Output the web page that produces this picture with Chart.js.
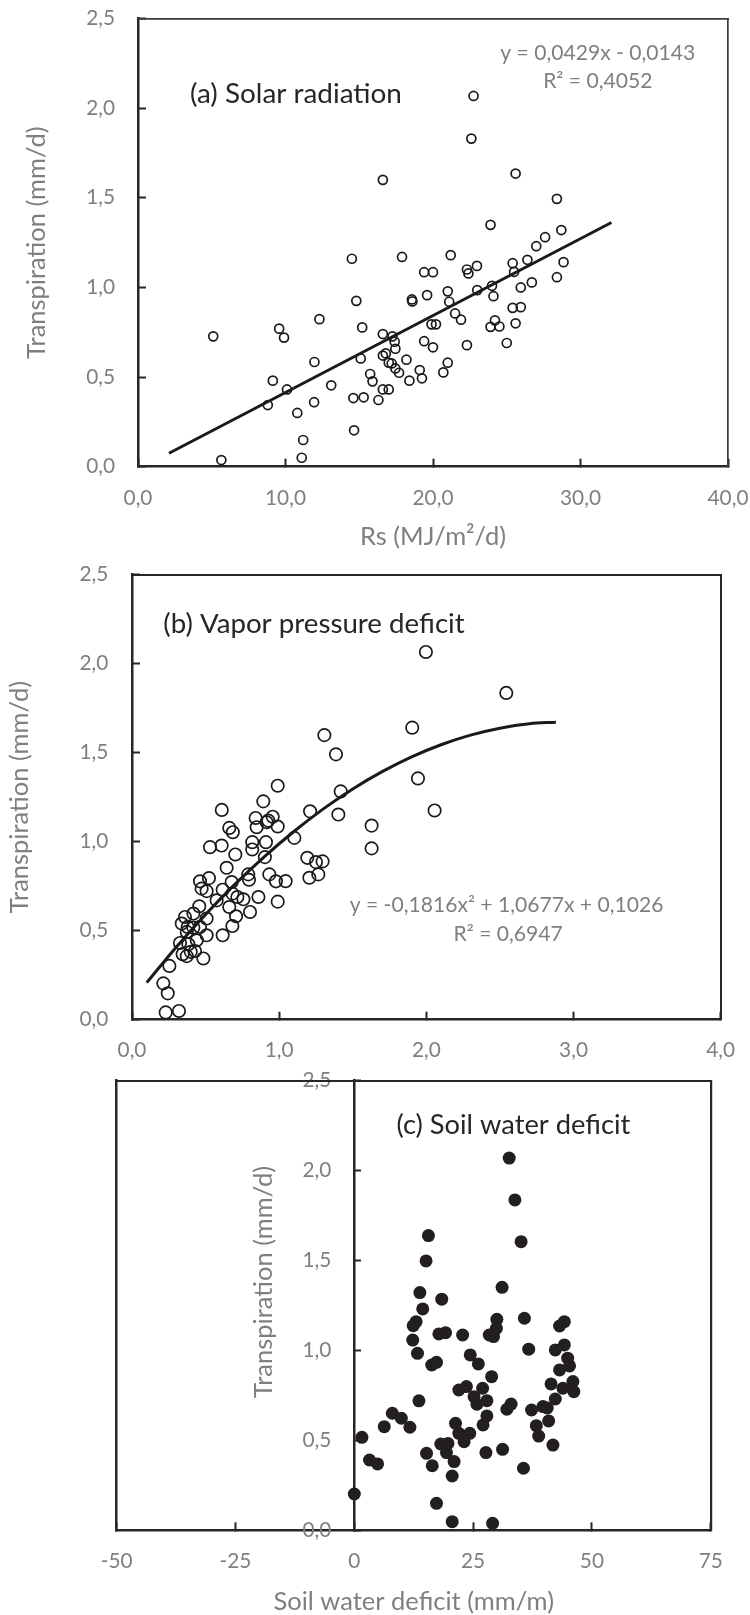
<!DOCTYPE html>
<html>
<head>
<meta charset="utf-8">
<title>Transpiration vs. Rs, VPD and soil water deficit</title>
<script src="https://cdn.jsdelivr.net/npm/chart.js@4.4.1/dist/chart.umd.min.js"></script>
<style>
    html, body { margin: 0; padding: 0; background: #fff; }
    #page { position: relative; width: 750px; height: 1615px; }
    #page canvas { position: absolute; left: 0; }
</style>
</head>
<body>
<div id="page">
    <canvas id="chartA" width="750" height="550" style="top:0"></canvas>
    <canvas id="chartB" width="750" height="510" style="top:550px"></canvas>
    <canvas id="chartC" width="750" height="555" style="top:1060px"></canvas>
</div>
<script>
// Tick values
const transpTicks = [0, 0.5, 1, 1.5, 2, 2.5];
const rsTicks = [0, 10, 20, 30, 40];
const vpdTicks = [0, 1, 2, 3, 4];
const swdTicks = [-50, -25, 0, 25, 50, 75];

// (a) Solar radiation (MJ/m2/d) vs transpiration (mm/d)
const rsX = [22.75, 22.6, 16.6, 25.6, 28.4, 23.9, 28.7, 27.6, 27.0, 14.5, 17.9, 21.2, 26.4, 28.85, 25.4, 25.5, 19.4, 20.0, 22.3, 22.4,
    22.98, 28.4, 26.7, 25.95, 24.0, 23.0, 24.1, 21.0, 21.1, 19.6, 18.57, 18.6, 14.8, 21.5, 21.9, 25.4, 25.95, 24.2, 23.9, 24.5,
    25.6, 25.0, 22.3, 19.9, 20.2, 19.4, 20.0, 15.2, 12.3, 9.57, 9.9, 16.6, 17.25, 17.4, 17.45, 16.8, 16.6, 11.96, 15.1, 18.2,
    17.2, 17.0, 17.45, 17.7, 18.4, 19.1, 19.25, 21.0, 20.7, 15.74, 15.9, 9.14, 10.1, 13.1, 8.8, 11.94, 10.8, 14.6, 15.3, 16.3,
    16.6, 17.0, 14.65, 11.2, 5.1, 5.65, 11.1];
const rsT = [2.068, 1.83, 1.60, 1.635, 1.494, 1.349, 1.32, 1.28, 1.23, 1.16, 1.17, 1.18, 1.154, 1.141, 1.135, 1.087, 1.085, 1.085, 1.10, 1.078,
    1.12, 1.057, 1.028, 1.00, 1.009, 0.985, 0.951, 0.978, 0.92, 0.957, 0.933, 0.922, 0.925, 0.855, 0.82, 0.886, 0.89, 0.816, 0.78, 0.782,
    0.80, 0.69, 0.678, 0.794, 0.794, 0.70, 0.666, 0.777, 0.823, 0.77, 0.72, 0.74, 0.727, 0.697, 0.658, 0.632, 0.62, 0.584, 0.604, 0.597,
    0.576, 0.58, 0.548, 0.524, 0.48, 0.539, 0.493, 0.58, 0.526, 0.517, 0.476, 0.48, 0.431, 0.454, 0.344, 0.36, 0.30, 0.383, 0.387, 0.372,
    0.431, 0.431, 0.203, 0.149, 0.727, 0.037, 0.05];
// linear trend line, end points
const rsFitX = [2.1, 32.1];
const rsFitT = [0.075, 1.362];

// (b) Vapor pressure deficit vs transpiration
const vpdX = [1.307, 1.386, 0.99, 1.418, 0.892, 0.61, 1.21, 1.997, 2.543, 1.904, 1.943, 2.056, 1.628, 1.628, 1.402, 0.661, 0.685, 0.84, 0.847, 0.915,
    0.956, 0.99, 0.926, 1.103, 0.53, 0.609, 0.702, 0.817, 0.817, 0.91, 0.903, 1.191, 1.25, 1.295, 1.266, 1.205, 0.643, 0.933, 0.978, 1.044,
    0.99, 0.79, 0.795, 0.523, 0.462, 0.473, 0.507, 0.616, 0.677, 0.682, 0.716, 0.757, 0.859, 0.802, 0.575, 0.661, 0.707, 0.682, 0.616, 0.457,
    0.417, 0.36, 0.338, 0.378, 0.417, 0.462, 0.507, 0.507, 0.372, 0.326, 0.383, 0.44, 0.344, 0.372, 0.399, 0.428, 0.485, 0.254, 0.213, 0.243,
    0.229, 0.319];
const vpdT = [1.598, 1.49, 1.314, 1.282, 1.226, 1.178, 1.17, 2.065, 1.835, 1.64, 1.355, 1.175, 1.09, 0.962, 1.152, 1.077, 1.053, 1.133, 1.081, 1.109,
    1.14, 1.085, 1.118, 1.021, 0.969, 0.978, 0.928, 0.997, 0.956, 0.997, 0.913, 0.909, 0.885, 0.889, 0.816, 0.797, 0.853, 0.816, 0.777, 0.778,
    0.663, 0.816, 0.786, 0.795, 0.777, 0.736, 0.722, 0.73, 0.773, 0.708, 0.689, 0.676, 0.689, 0.605, 0.67, 0.633, 0.581, 0.526, 0.474, 0.637,
    0.596, 0.577, 0.54, 0.521, 0.517, 0.521, 0.568, 0.474, 0.493, 0.431, 0.424, 0.446, 0.368, 0.357, 0.381, 0.386, 0.344, 0.302, 0.204, 0.148,
    0.041, 0.049];
// polynomial trend line
const vpdFitX = [0.1, 0.3, 0.5, 0.7, 0.9, 1.1, 1.3, 1.5, 1.7, 1.9, 2.1, 2.3, 2.5, 2.7, 2.88];
const vpdFitT = [0.208, 0.407, 0.591, 0.761, 0.916, 1.057, 1.184, 1.296, 1.393, 1.476, 1.544, 1.598, 1.637, 1.662, 1.671];

// (c) Soil water deficit (mm/m) vs transpiration
const swdX = [32.6, 33.8, 35.1, 15.6, 15.1, 31.1, 13.8, 18.4, 14.4, 35.8, 30.0, 13.0, 12.4, 44.2, 43.2, 17.8, 19.2, 22.8, 29.9, 28.4,
    29.3, 12.3, 44.2, 42.3, 36.7, 13.3, 24.4, 26.1, 44.9, 45.3, 43.2, 16.3, 17.3, 28.9, 27.0, 22.0, 23.6, 41.4, 43.9, 46.0,
    46.2, 25.2, 25.8, 27.9, 42.3, 13.6, 27.9, 27.1, 32.1, 33.0, 37.3, 39.7, 40.6, 40.9, 38.3, 38.8, 41.8, 8.0, 9.9, 11.7,
    6.3, 1.6, 3.2, 4.9, 0.0, 21.3, 22.0, 23.1, 24.3, 18.2, 19.7, 19.4, 15.2, 16.4, 21.0, 20.6, 27.7, 31.2, 35.6, 17.3,
    20.6, 29.1];
const swdT = [2.07, 1.837, 1.605, 1.639, 1.498, 1.351, 1.322, 1.285, 1.231, 1.179, 1.173, 1.16, 1.138, 1.16, 1.136, 1.092, 1.099, 1.086, 1.123, 1.086,
    1.077, 1.058, 1.031, 1.003, 1.007, 0.984, 0.975, 0.925, 0.957, 0.914, 0.892, 0.919, 0.934, 0.854, 0.79, 0.78, 0.799, 0.814, 0.79, 0.827,
    0.771, 0.743, 0.701, 0.721, 0.73, 0.72, 0.636, 0.586, 0.673, 0.702, 0.669, 0.688, 0.68, 0.608, 0.582, 0.524, 0.474, 0.651, 0.623, 0.573,
    0.576, 0.517, 0.391, 0.369, 0.202, 0.595, 0.539, 0.493, 0.539, 0.48, 0.483, 0.432, 0.428, 0.359, 0.382, 0.302, 0.432, 0.45, 0.345, 0.15,
    0.048, 0.039];

const FONT = 'Lato';
const GREY = '#7f7f7f';
const INK = '#262626';

// Size a font so a string gets the width it has in the figure
const measureCtx = document.createElement('canvas').getContext('2d');
function fitSize(text, width) {
    measureCtx.font = '100px ' + FONT;
    return Math.round(1000 * width / measureCtx.measureText(text).width) / 10;
}
const tickSize = fitSize('10,0', 41);
const axisTitleSize = fitSize('Transpiration (mm/d)', 232);
const eqSize = fitSize('y = 0,0429x - 0,0143', 195);

function points(xs, ys) {
    return xs.map((x, i) => ({ x: x, y: ys[i] }));
}

function comma(digits) {
    return v => Number(v).toFixed(digits).replace('.', ',');
}

// Fix an axis box to a set size and drop the label overhang padding
function sizeTo(size) {
    return function(scale) {
        if (scale.isHorizontal()) scale.height = size; else scale.width = size;
        scale.paddingLeft = scale.paddingRight = scale.paddingTop = scale.paddingBottom = 0;
    };
}

// Axis with numbers and inward tick marks
function valueAxis(o) {
    return {
        type: 'linear',
        axis: o.axis,
        position: o.position,
        min: o.ticks[0],
        max: o.ticks[o.ticks.length - 1],
        afterBuildTicks: scale => { scale.ticks = o.ticks.map(v => ({ value: v })); },
        afterFit: sizeTo(o.size),
        grid: { display: true, drawOnChartArea: false, drawTicks: true, tickLength: -8, tickWidth: 2, tickColor: INK },
        border: { display: true, color: INK, width: 2.5 },
        ticks: {
            color: GREY,
            padding: o.pad,
            autoSkip: false,
            maxRotation: 0,
            font: { family: FONT, size: tickSize, lineHeight: '24px' },
            callback: o.format
        },
        title: o.title ? {
            display: true,
            text: o.title,
            color: GREY,
            font: { family: FONT, size: axisTitleSize, lineHeight: '24px' },
            padding: o.titlePad
        } : { display: false }
    };
}

// Plain line closing the plot box
function frameAxis(axis, position, size, color, width) {
    return {
        type: 'linear',
        axis: axis,
        position: position,
        min: 0,
        max: 1,
        afterFit: sizeTo(size),
        ticks: { display: false },
        grid: { display: false, drawTicks: false },
        border: { display: true, color: color, width: width }
    };
}

// Text placed at data coordinates (panel titles, equations)
const notesPlugin = {
    id: 'notes',
    afterDraw(chart, args, opts) {
        const ctx = chart.ctx;
        (opts.items || []).forEach(n => {
            const px = chart.scales.x.getPixelForValue(n.x);
            const py = chart.scales.y.getPixelForValue(n.y);
            ctx.save();
            ctx.font = n.size + 'px ' + FONT;
            ctx.fillStyle = n.color;
            ctx.textAlign = n.align || 'left';
            ctx.textBaseline = 'middle';
            ctx.translate(px, py);
            if (n.rotate) ctx.rotate(n.rotate);
            ctx.fillText(n.text, 0, 0);
            ctx.restore();
        });
    }
};

// A y axis placed at x = 0 gets its labels right on the line; move them off by the tick padding
const crossingLabelsPlugin = {
    id: 'crossingLabels',
    beforeDraw(chart) {
        const scale = chart.scales.y;
        const axisX = chart.scales.x.getPixelForValue(0);
        const shift = scale.options.ticks.padding + scale.options.grid.tickLength;
        scale.getLabelItems().forEach(item => {
            const t = item.options.translation;
            if (Math.abs(t[0] - axisX) < 1) t[0] = axisX - shift;
        });
    }
};

function baseOptions(padding, notes) {
    return {
        responsive: false,
        animation: false,
        devicePixelRatio: 1,
        layout: { padding: padding },
        plugins: {
            legend: { display: false },
            tooltip: { enabled: false },
            notes: { items: notes }
        }
    };
}

function openCircles(xs, ys, radius) {
    return {
        type: 'scatter',
        data: points(xs, ys),
        pointRadius: radius,
        pointHoverRadius: radius,
        pointBorderWidth: 1.7,
        pointBorderColor: '#1a1a1a',
        pointBackgroundColor: 'rgba(0,0,0,0)',
        xAxisID: 'x',
        yAxisID: 'y'
    };
}

function fitLine(xs, ys, smooth) {
    return {
        type: 'line',
        data: points(xs, ys),
        showLine: true,
        fill: false,
        borderColor: '#1a1a1a',
        borderWidth: 3,
        pointRadius: 0,
        cubicInterpolationMode: smooth ? 'monotone' : 'default',
        xAxisID: 'x',
        yAxisID: 'y'
    };
}

// (a) Solar radiation
const optsA = baseOptions({ left: 0, top: 18.5, right: 22, bottom: 0 }, [
    { text: '(a) Solar radiation', x: 3.53, y: 2.081, align: 'left', color: INK, size: fitSize('(a) Solar radiation', 212) },
    { text: 'y = 0,0429x - 0,0143', x: 31.17, y: 2.304, align: 'center', color: GREY, size: eqSize },
    { text: 'R² = 0,4052', x: 31.17, y: 2.15, align: 'center', color: GREY, size: eqSize }
]);
optsA.scales = {
    x: valueAxis({ axis: 'x', position: 'bottom', ticks: rsTicks, size: 83.3, pad: 27.6, format: comma(1),
        title: 'Rs (MJ/m²/d)', titlePad: { top: 0, bottom: 1 } }),
    y: valueAxis({ axis: 'y', position: 'left', ticks: transpTicks, size: 138, pad: 31, format: comma(1),
        title: 'Transpiration (mm/d)', titlePad: { top: 25, bottom: 0 } }),
    xTop: frameAxis('x', 'top', 0, '#3a3a3a', 1.7),
    yRight: frameAxis('y', 'right', 0, '#3a3a3a', 1.7)
};
new Chart(document.getElementById('chartA'), {
    type: 'scatter',
    data: { datasets: [fitLine(rsFitX, rsFitT, false), openCircles(rsX, rsT, 4.5)] },
    options: optsA,
    plugins: [notesPlugin]
});

// (b) Vapor pressure deficit
const optsB = baseOptions({ left: 0, top: 24.5, right: 29.3, bottom: 0 }, [
    { text: '(b) Vapor pressure deficit', x: 0.213, y: 2.219, align: 'left', color: INK, size: fitSize('(b) Vapor pressure deficit', 301) },
    { text: 'y = -0,1816x² + 1,0677x + 0,1026', x: 2.545, y: 0.642, align: 'center', color: GREY, size: eqSize },
    { text: 'R² = 0,6947', x: 2.556, y: 0.48, align: 'center', color: GREY, size: eqSize }
]);
optsB.scales = {
    x: valueAxis({ axis: 'x', position: 'bottom', ticks: vpdTicks, size: 40.3, pad: 26.3, format: comma(1) }),
    y: valueAxis({ axis: 'y', position: 'left', ticks: transpTicks, size: 132, pad: 31.7, format: comma(1),
        title: 'Transpiration (mm/d)', titlePad: { top: 8, bottom: 0 } }),
    xTop: frameAxis('x', 'top', 0, '#262626', 2),
    yRight: frameAxis('y', 'right', 0, '#262626', 2)
};
new Chart(document.getElementById('chartB'), {
    type: 'scatter',
    data: { datasets: [fitLine(vpdFitX, vpdFitT, true), openCircles(vpdX, vpdT, 6.2)] },
    options: optsB,
    plugins: [notesPlugin]
});

// (c) Soil water deficit, y axis crosses at x = 0
const optsC = baseOptions({ left: 0, top: 20.7, right: 39.3, bottom: 0 }, [
    { text: '(c) Soil water deficit', x: 8.88, y: 2.254, align: 'left', color: INK, size: fitSize('(c) Soil water deficit', 234) },
    { text: 'Transpiration (mm/d)', x: -19.0, y: 1.381, align: 'center', color: GREY, size: axisTitleSize, rotate: -Math.PI / 2 }
]);
optsC.scales = {
    x: valueAxis({ axis: 'x', position: 'bottom', ticks: swdTicks, size: 84.7, pad: 27.4, format: comma(0),
        title: 'Soil water deficit (mm/m)', titlePad: { top: 0, bottom: 1.3 } }),
    y: valueAxis({ axis: 'y', position: { x: 0 }, ticks: transpTicks, size: 0, pad: 31, format: comma(1) }),
    yLeft: frameAxis('y', 'left', 116.7, '#262626', 2.5),
    xTop: frameAxis('x', 'top', 0, '#262626', 2),
    yRight: frameAxis('y', 'right', 0, '#262626', 2.2)
};
new Chart(document.getElementById('chartC'), {
    type: 'scatter',
    data: {
        datasets: [{
            type: 'scatter',
            data: points(swdX, swdT),
            pointRadius: 6.5,
            pointHoverRadius: 6.5,
            pointBorderWidth: 0,
            pointBackgroundColor: '#231f20',
            xAxisID: 'x',
            yAxisID: 'y'
        }]
    },
    options: optsC,
    plugins: [notesPlugin, crossingLabelsPlugin]
});
</script>
</body>
</html>
